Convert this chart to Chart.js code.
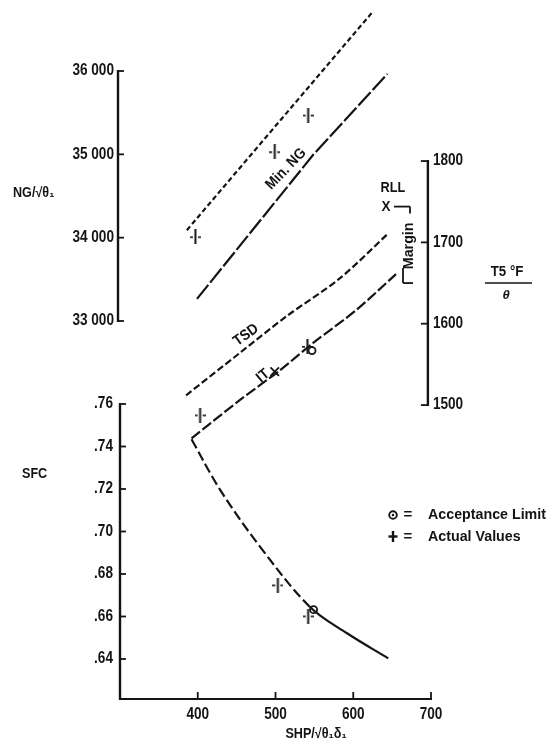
<!DOCTYPE html>
<html><head><meta charset="utf-8">
<script src="https://cdn.jsdelivr.net/npm/chart.js@4.4.0/dist/chart.umd.min.js"></script>
<style>html,body{margin:0;padding:0;background:#fff;}#wrap{width:556px;height:747px;position:relative}</style>
</head><body><div id="wrap"><canvas id="c" width="556" height="747"></canvas></div>
<script>
// ---- data ----
const shpTicks = [400, 500, 600, 700];
const ngTicks = [33000, 34000, 35000, 36000];
const t5Ticks = [1500, 1600, 1700, 1800];
const sfcTicks = [0.64, 0.66, 0.68, 0.70, 0.72, 0.74, 0.76];

const ngUpperX = [386, 531, 625];
const ngUpperY = [34090, 35680, 36710];
const minNgX = [399, 549, 644];
const minNgY = [33265, 35000, 35965];
const tsdX = [385, 454, 514, 583, 645];
const tsdY = [1512, 1564, 1609, 1656, 1711];
const ittX = [392, 454, 506, 548, 604, 655];
const ittY = [1459, 1506, 1543, 1576, 1617, 1661];
const sfcX = [392, 429, 480, 544, 592, 645];
const sfcY = [0.7434, 0.7195, 0.6929, 0.6646, 0.6521, 0.6403];

const ngActualX = [397, 499, 542];
const ngActualY = [34010, 35030, 35470];
const ittActualX = [541];
const ittActualY = [1572];
const ittCrossX = [499];
const ittCrossY = [1541];
const sfcActualX = [403, 503, 542];
const sfcActualY = [0.7548, 0.6748, 0.6602];
const ittLimitX = [547];
const ittLimitY = [1567];
const sfcLimitX = [549];
const sfcLimitY = [0.6632];
const rllValue = 1744;
const marginBottomValue = 1650;

// ---- helpers ----
const INK = '#141414';
const pts = (xs, ys) => xs.map((x, i) => ({x, y: ys[i]}));
function plusMarker() {
  const c = document.createElement('canvas');
  c.width = 11; c.height = 15;
  const g = c.getContext('2d');
  g.fillStyle = INK;
  g.fillRect(4.5, 0, 2, 15);
  g.fillRect(0, 7, 3, 1.6);
  g.fillRect(8, 7, 3, 1.6);
  return c;
}
const plusImg = plusMarker();

function lineDs(xs, ys, axis, dash, w, tension, segDash) {
  const d = {data: pts(xs, ys), xAxisID: 'x', yAxisID: axis, borderColor: INK, borderWidth: w,
    borderDash: dash, pointRadius: 0, fill: false, tension: tension || 0, clip: false};
  if (segDash) d.segment = {borderDash: segDash};
  return d;
}
function markDs(xs, ys, axis, style, r, extra) {
  return Object.assign({data: pts(xs, ys), xAxisID: 'x', yAxisID: axis, showLine: false,
    pointStyle: style, pointRadius: r, borderColor: INK, backgroundColor: INK, borderWidth: 1.8, clip: false}, extra || {});
}

const datasets = [
  lineDs(ngUpperX, ngUpperY, 'ng', [5, 3], 2.2),
  lineDs(minNgX, minNgY, 'ng', [], 2.2, 0, c => c.p0.parsed.x < 560 ? [18, 3] : [7, 3]),
  lineDs(tsdX, tsdY, 't5', [7, 3], 2.2, 0.3),
  lineDs(ittX, ittY, 't5', [11, 3], 2.2, 0.3),
  lineDs(sfcX, sfcY, 'sfc', [], 2.2, 0.35, c => c.p0.parsed.x < 540 ? [10, 4] : []),
  markDs(ngActualX, ngActualY, 'ng', plusImg, 5),
  markDs(ittActualX, ittActualY, 't5', plusImg, 5),
  markDs(ittCrossX, ittCrossY, 't5', 'crossRot', 6),
  markDs(sfcActualX, sfcActualY, 'sfc', plusImg, 5),
  markDs(ittLimitX, ittLimitY, 't5', 'circle', 3.5, {backgroundColor: '#fff'}),
  markDs(sfcLimitX, sfcLimitY, 'sfc', 'circle', 3.5, {backgroundColor: '#fff'})
];

const FONT = '"Liberation Sans", Arial, sans-serif';
const deco = {
  id: 'deco',
  afterDatasetsDraw(chart) {
    const {ctx, chartArea: a, scales: s} = chart;
    const X = s.x, NG = s.ng, T5 = s.t5, SF = s.sfc;
    ctx.save();
    ctx.strokeStyle = INK; ctx.fillStyle = INK; ctx.lineCap = 'butt';
    const line = (x1, y1, x2, y2, w) => { ctx.lineWidth = w || 2; ctx.beginPath(); ctx.moveTo(x1, y1); ctx.lineTo(x2, y2); ctx.stroke(); };
    const text = (t, x, y, font, align, rot, sx) => {
      ctx.save(); ctx.translate(x, y); if (rot) ctx.rotate(rot * Math.PI / 180);
      ctx.scale(sx || 1, 1);
      ctx.font = font; ctx.textAlign = align || 'center'; ctx.textBaseline = 'middle';
      ctx.fillText(t, 0, 0); ctx.restore();
    };
    const tf = 'bold 16px ' + FONT;
    const tk = (t, x, y, align) => text(t, x, y, tf, align, 0, 0.85);

    // NG axis
    const ngx = a.left - 2;
    line(ngx, NG.getPixelForValue(36000) - 1, ngx, NG.getPixelForValue(33000) + 1, 2.4);
    ngTicks.forEach(v => {
      const y = NG.getPixelForValue(v);
      line(ngx, y, ngx + 6, y, 1.8);
      tk(Math.floor(v / 1000) + ' ' + String(v % 1000).padStart(3, '0'), ngx - 4, y, 'right');
    });

    // T5 axis
    const tx = X.getPixelForValue(696);
    line(tx, T5.getPixelForValue(1800) - 1, tx, T5.getPixelForValue(1500) + 1, 2.4);
    t5Ticks.forEach(v => {
      const y = T5.getPixelForValue(v);
      line(tx - 7, y, tx, y, 1.8);
      tk(String(v), tx + 5, y, 'left');
    });

    // SFC axis
    const sx = a.left;
    line(sx, SF.getPixelForValue(0.76) - 1, sx, a.bottom + 1, 2.4);
    sfcTicks.forEach(v => {
      const y = SF.getPixelForValue(v);
      line(sx, y, sx + 6, y, 1.8);
      tk(v.toFixed(2).slice(1), sx - 7, y, 'right');
    });

    // SHP axis
    line(a.left - 1, a.bottom, X.getPixelForValue(700) + 1, a.bottom, 2.2);
    shpTicks.forEach(v => {
      const x = X.getPixelForValue(v);
      line(x, a.bottom - 7, x, a.bottom, 1.8);
      tk(String(v), x, a.bottom + 16, 'center');
    });

    // Axis titles
    const af = 'bold 14px ' + FONT;
    text('NG/√θ₁', 13, 193, af, 'left', 0, 0.9);
    text('SFC', 22, 474, af, 'left', 0, 0.9);
    text('T5 °F', 507, 272, af, 'center', 0, 0.95);
    line(485, 283, 532, 283, 1.4);
    text('θ', 506, 295, 'italic bold 13px ' + FONT, 'center');
    text('SHP/√θ₁δ₁', 316, 734, af, 'center', 0, 0.9);

    // Curve labels
    const cf = 'bold 15px ' + FONT;
    text('Min. NG', 286, 169, cf, 'center', -46, 0.9);
    text('TSD', 246, 335, cf, 'center', -36, 0.9);
    text('IT', 263, 376, cf, 'center', -40, 0.9);

    // RLL and margin bracket
    const yR = T5.getPixelForValue(rllValue);
    const yB = T5.getPixelForValue(marginBottomValue);
    text('RLL', 393, yR - 19, 'bold 15px ' + FONT, 'center', 0, 0.85);
    text('X', 386, yR, 'bold 15px ' + FONT, 'center', 0, 0.9);
    line(394, yR, 410, yR, 1.8);
    line(410, yR, 410, yR + 7, 1.8);
    text('Margin', 409, (yR + yB) / 2 + 1, 'bold 15px ' + FONT, 'center', -90, 0.95);
    line(403, yB - 15, 403, yB, 1.8);
    line(403, yB, 413, yB, 1.8);

    // Legend
    const lf = 'bold 15px ' + FONT;
    ctx.lineWidth = 1.9;
    ctx.beginPath(); ctx.arc(393, 515, 3.8, 0, Math.PI * 2); ctx.stroke();
    ctx.beginPath(); ctx.arc(393, 515, 1.2, 0, Math.PI * 2); ctx.fill();
    text('=', 408, 515, lf, 'center');
    text('Acceptance Limit', 428, 515, lf, 'left', 0, 0.95);
    line(393, 531, 393, 542, 2.4);
    line(388.5, 536.5, 397.5, 536.5, 2.4);
    text('=', 408, 537, lf, 'center');
    text('Actual Values', 428, 537, lf, 'left', 0, 0.95);
    ctx.restore();
  }
};

new Chart(document.getElementById('c'), {
  type: 'line',
  data: {datasets},
  options: {
    responsive: false, animation: false, devicePixelRatio: 1,
    layout: {padding: {left: 120, right: 125, top: 10, bottom: 48}},
    plugins: {legend: {display: false}, tooltip: {enabled: false}},
    scales: {
      x: {type: 'linear', display: false, min: 300, max: 700},
      ng: {type: 'linear', display: false, min: 28464, max: 36732},
      t5: {type: 'linear', display: false, min: 1138.6, max: 1985.7},
      sfc: {type: 'linear', display: false, min: 0.62117, max: 0.94541}
    }
  },
  plugins: [deco]
});
</script>
</body></html>
